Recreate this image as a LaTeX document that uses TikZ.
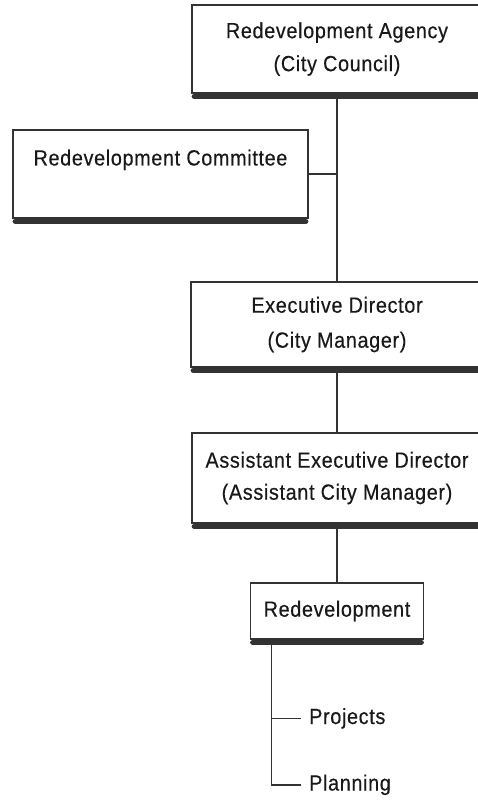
\documentclass[tikz,border=0pt]{standalone}
\usepackage{fontspec}
\setmainfont{Liberation Sans}[LetterSpace=3.0, FakeStretch=0.9, FakeBold=0.4]
\begin{document}
\begin{tikzpicture}[x=1pt,y=1pt,
  box/.style={draw=black!80, line width=1.3pt, fill=white, inner sep=0pt, align=center, text=black!90},
  fs/.style={font=\fontsize{22}{#1}\selectfont},
  shade/.style={line width=5.5pt, black!80, line cap=round},
  conn/.style={line width=1.4pt, black!80},
  leaf/.style={inner xsep=8pt, inner ysep=2pt, font=\fontsize{22}{24}\selectfont, text=black!90}]
\useasboundingbox (0,0) rectangle (478,-800);
\node[box, fs=33, minimum width=290pt, minimum height=88pt] (agency) at (337,-49) {Redevelopment Agency\\(City Council)};
\node[box, fs=33, minimum width=295pt, minimum height=88pt] (comm) at (160.5,-174) {Redevelopment Committee\\\mbox{}};
\node[box, fs=35, minimum width=292pt, minimum height=85pt] (exec) at (337,-324.5) {Executive Director\\(City Manager)};
\node[box, fs=32, minimum width=290pt, minimum height=90pt] (asst) at (337,-478) {Assistant Executive Director\\(Assistant City Manager)};
\node[box, fs=33, minimum width=173pt, minimum height=56pt] (redev) at (337,-611) {Redevelopment};
\node[leaf, anchor=base west] (proj) at (301,-724) {Projects};
\node[leaf, anchor=base west] (plan) at (301,-790.5) {Planning};
\coordinate (trunk) at ([xshift=21.5pt]redev.south west);
\draw[conn] (agency.south) -- (exec.north);
\draw[conn] (comm.east) -- (comm.east -| agency.south);
\draw[conn] (exec.south) -- (asst.north);
\draw[conn] (asst.south) -- (redev.north);
\draw[conn] (trunk) |- (proj.west);
\draw[conn] (trunk) |- (plan.west);
\foreach \n in {agency,comm,exec,asst,redev}
  \draw[shade] ([xshift=3pt,yshift=-2.75pt]\n.south west) -- ([xshift=-3pt,yshift=-2.75pt]\n.south east);
\end{tikzpicture}
\end{document}
